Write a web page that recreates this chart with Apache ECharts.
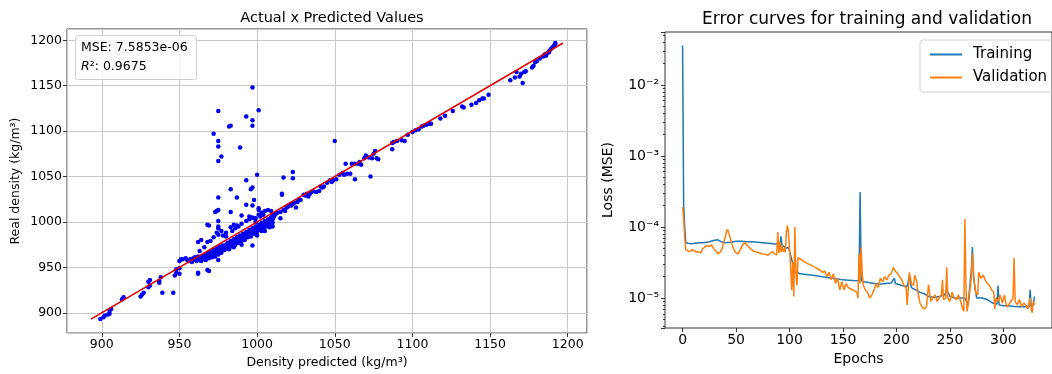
<!DOCTYPE html>
<html>
<head>
<meta charset="utf-8">
<script src="https://cdn.jsdelivr.net/npm/echarts@6/dist/echarts.min.js"></script>
<style>
  html, body { margin: 0; padding: 0; background: #fff; }
  #chart { width: 1052px; height: 374px; }
</style>
</head>
<body>
<div id="chart"></div>
<script>
// predicted vs real density (kg/m3)
const predicted = [
  899, 901, 902, 904, 905, 905, 906, 913, 914, 925, 926, 927, 930, 931, 930, 931, 937, 938, 937, 939, 946, 947, 948, 948, 950,
  950, 951, 952, 954, 950, 962, 968, 969, 962, 975,
  955, 956, 957, 958, 959, 960, 960, 961, 962, 962, 963, 963, 964, 964, 965, 965, 966, 966, 967, 967, 968, 968, 969, 969, 970,
  970, 971, 971, 972, 972, 973, 973, 974, 974, 975, 975, 976, 976, 977, 977, 978, 978, 979, 979, 980, 980, 981, 981, 982, 982,
  983, 983, 984, 984, 985, 985, 986, 986, 987, 987, 988, 988, 989, 989, 990, 990, 991, 991, 992, 992, 993, 993, 994, 994, 995,
  995, 996, 996, 997, 997, 998, 998, 999, 999, 1000, 1000, 1001, 1001, 1002, 1002, 1003, 1003, 1004, 1004, 1005, 1005, 1006, 1006, 1007, 1007,
  1008, 1008, 1009, 1009, 1010, 1010,
  963, 966, 968, 970, 962, 964, 972, 975, 977, 980, 983, 985, 987, 990, 993, 995, 997, 999, 1001, 1003, 1005, 1007, 1009, 1002, 1004,
  968, 969, 975, 975, 975, 974, 978, 980, 984, 986, 988, 990, 983, 975, 974, 973, 987, 975, 998, 993, 997, 998, 995, 999, 1001, 1001,
  997, 985, 990, 1000, 1005, 1010, 1015, 1008, 992, 996, 1003,
  997, 975, 1001, 993, 997, 997, 983, 982, 972, 975, 975, 989, 977, 975, 1050, 1000, 993, 997, 996, 983, 1023, 1023, 1017,
  1016, 1016, 1063, 1073, 1057, 1060, 1058, 1087,
  1010, 1011, 1012, 1013, 1015, 1017, 1018, 1019, 1020, 1021, 1022, 1023, 1024, 1025, 1026, 1027, 1028,
  1030, 1031, 1032, 1033, 1034, 1035, 1036, 1038, 1040, 1041, 1042, 1043, 1045, 1047, 1048, 1049, 1051, 1053, 1055, 1056,
  1061, 1063, 1065, 1066, 1067, 1069, 1070, 1072, 1074, 1075, 1076, 1077, 1078,
  1087, 1088, 1090, 1093, 1095, 1097, 1100, 1102, 1104, 1106, 1107, 1109, 1111,
  1112, 1118, 1121, 1126, 1132, 1133, 1138, 1141, 1143, 1145, 1146, 1149,
  1163, 1166, 1167, 1169, 1170, 1171, 1172, 1173, 1177, 1178, 1179, 1180, 1182, 1184, 1185, 1186, 1187, 1188, 1189, 1190, 1191, 1192, 1192, 1188, 1186
];
const real = [
  893, 895, 897, 898, 899, 902, 904, 915, 917, 918, 920, 922, 928, 930, 934, 936, 935, 939, 933, 922, 922, 941, 944, 948, 949,
  957, 959, 959, 960, 943, 943, 947, 946, 944, 958,
  958, 957, 959, 956, 960, 958, 961, 957, 959, 962, 958, 960, 961, 957, 959, 962, 960, 963, 961, 958, 962, 965, 960, 966, 963,
  967, 964, 961, 966, 969, 965, 962, 968, 971, 967, 964, 970, 973, 968, 966, 971, 974, 972, 969, 975, 971, 973, 977, 974, 970,
  976, 979, 977, 973, 978, 981, 979, 975, 980, 983, 981, 977, 982, 985, 983, 979, 984, 987, 985, 981, 986, 989, 987, 983, 988,
  991, 989, 985, 990, 993, 991, 987, 992, 995, 993, 989, 994, 997, 995, 991, 996, 999, 997, 993, 998, 1001, 999, 995, 1000, 1003,
  1001, 997, 1002, 1005, 1003, 999,
  968, 972, 978, 979, 978, 980, 983, 986, 990, 988, 994, 997, 996, 998, 1001, 1003, 1005, 1004, 1008, 1010, 1012, 1013, 1012, 1006, 1008,
  997, 996, 1001, 995, 993, 988, 985, 984, 990, 993, 995, 1007, 1011, 1013, 1012, 1011, 1027, 1027, 1024, 1019, 1018, 1004, 1006, 1000, 1013, 1015,
  974, 972, 975, 985, 990, 995, 1004, 994, 980, 984, 990,
  1148, 1122, 1123, 1116, 1112, 1106, 1106, 1105, 1097, 1089, 1083, 1082, 1072, 1067, 1089, 1052, 1046, 1038, 1036, 1036, 1055, 1048, 1049,
  1031, 1030, 1047, 1050, 1064, 1053, 1053, 1080,
  1008, 1006, 1009, 1010, 1011, 1013, 1012, 1016, 1017, 1019, 1018, 1020, 1021, 1016, 1022, 1025, 1024,
  1030, 1029, 1031, 1028, 1031, 1033, 1034, 1033, 1034, 1039, 1038, 1039, 1043, 1046, 1044, 1046, 1047, 1052, 1054, 1052,
  1064, 1064, 1064, 1066, 1063, 1070, 1073, 1071, 1070, 1075, 1078, 1070, 1069,
  1087, 1088, 1089, 1090, 1089, 1096, 1099, 1101, 1102, 1105, 1106, 1107, 1108,
  1108, 1114, 1117, 1122, 1127, 1126, 1129, 1131, 1134, 1136, 1136, 1140,
  1156, 1159, 1165, 1160, 1163, 1153, 1165, 1166, 1170, 1172, 1176, 1177, 1180, 1182, 1184, 1185, 1186, 1188, 1190, 1192, 1194, 1196, 1197, 1187, 1183
];
const idealLine = [[893, 893], [1197, 1197]];

// loss per epoch, [epoch, mse]
const training = [
  [0, 0.036], [1, 0.0002], [2, 0.0001], [3, 6.0e-5], [5, 5.9e-5], [8, 5.8e-5], [12, 5.9e-5], [16, 6.0e-5], [20, 6.0e-5],
  [25, 6.2e-5], [30, 6.5e-5], [33, 6.6e-5], [36, 6.2e-5], [40, 6.0e-5], [45, 6.1e-5], [50, 6.3e-5], [55, 6.3e-5], [60, 6.2e-5],
  [65, 6.2e-5], [70, 6.1e-5], [75, 6.0e-5], [80, 5.9e-5], [85, 5.8e-5], [89, 5.7e-5], [91, 5.6e-5], [92, 7.4e-5], [93, 5.5e-5],
  [95, 5.3e-5], [97, 5.0e-5], [99, 5.2e-5], [100, 4.6e-5], [102, 3.5e-5], [104, 2.6e-5], [106, 2.3e-5], [110, 2.2e-5],
  [115, 2.15e-5], [120, 2.1e-5], [125, 2.05e-5], [130, 2.0e-5], [135, 1.95e-5], [140, 1.9e-5], [145, 1.85e-5], [150, 1.8e-5],
  [155, 1.78e-5], [160, 1.76e-5], [165, 1.75e-5], [166, 3.1e-4], [167, 1.9e-5], [168, 1.7e-5], [172, 1.68e-5], [176, 1.62e-5],
  [180, 1.6e-5], [185, 1.58e-5], [190, 1.6e-5], [195, 1.62e-5], [198, 1.9e-5], [199, 1.6e-5], [205, 1.5e-5], [210, 1.45e-5],
  [212, 2.0e-5], [214, 1.4e-5], [218, 1.3e-5], [222, 1.2e-5], [226, 1.15e-5], [230, 1.05e-5], [235, 1.02e-5], [240, 1.05e-5],
  [245, 1.1e-5], [247, 1.3e-5], [250, 1.05e-5], [255, 1.0e-5], [260, 1.0e-5], [264, 1.0e-5], [267, 8e-6], [270, 2.5e-5],
  [271, 5.2e-5], [272, 2.0e-5], [275, 1.0e-5], [280, 1.0e-5], [285, 9.5e-6], [290, 8.5e-6], [294, 8.2e-6], [295, 1.5e-5],
  [296, 8e-6], [300, 7.8e-6], [305, 7.8e-6], [310, 7.6e-6], [315, 7.5e-6], [320, 7.6e-6], [324, 7.5e-6], [325, 1.3e-5],
  [326, 7.6e-6], [328, 8e-6], [329, 1.05e-5]
];
const validation = [
  [0, 1.9e-4], [1, 1.3e-4], [2, 7e-5], [3, 4.8e-5], [5, 4.6e-5], [7, 4.5e-5], [9, 4.8e-5], [11, 4.6e-5], [13, 4.4e-5],
  [15, 4.5e-5], [17, 4.3e-5], [19, 5.0e-5], [21, 5.2e-5], [23, 5.5e-5], [25, 5.3e-5], [27, 5.6e-5], [29, 5.0e-5], [31, 4.6e-5],
  [33, 4.2e-5], [35, 4.4e-5], [37, 5.0e-5], [39, 6.5e-5], [41, 8.5e-5], [42, 9.3e-5], [44, 7.5e-5], [46, 5.8e-5], [48, 4.8e-5],
  [50, 4.3e-5], [52, 4.2e-5], [54, 4.8e-5], [56, 5.6e-5], [58, 6.0e-5], [60, 5.6e-5], [63, 5.0e-5], [66, 4.6e-5], [70, 4.4e-5],
  [74, 4.2e-5], [78, 4.1e-5], [80, 4.0e-5], [82, 4.3e-5], [84, 4.5e-5], [86, 4.2e-5], [88, 4.0e-5], [89, 8.5e-5], [90, 4.3e-5],
  [91, 6.2e-5], [92, 4.4e-5], [93, 5.5e-5], [94, 4.5e-5], [95, 5.0e-5], [96, 4.4e-5], [97, 8.0e-5], [98, 1.05e-4], [99, 8.5e-5],
  [100, 5.0e-5], [101, 2.8e-5], [102, 1.3e-5], [103, 3.2e-5], [104, 1.05e-5], [105, 1.0e-4], [106, 2.2e-5], [107, 1.5e-5],
  [108, 3.7e-5], [112, 3.4e-5], [116, 3.1e-5], [120, 2.9e-5], [124, 2.7e-5], [128, 2.5e-5], [131, 2.3e-5], [133, 2.4e-5],
  [135, 2.0e-5], [137, 2.3e-5], [139, 1.8e-5], [141, 2.2e-5], [143, 1.6e-5], [145, 1.9e-5], [147, 1.3e-5], [149, 1.7e-5],
  [151, 1.3e-5], [153, 1.6e-5], [155, 1.4e-5], [157, 1.35e-5], [159, 1.3e-5], [161, 1.25e-5], [163, 1.2e-5], [164, 1.0e-5],
  [165, 4.2e-5], [166, 1.6e-5], [167, 5.2e-5], [168, 2.2e-5], [169, 1.5e-5], [171, 1.3e-5], [173, 1.2e-5], [175, 1.0e-5],
  [177, 1.1e-5], [179, 1.3e-5], [181, 1.6e-5], [183, 1.4e-5], [185, 1.9e-5], [187, 1.7e-5], [189, 2.0e-5], [191, 1.8e-5],
  [193, 2.1e-5], [195, 2.2e-5], [197, 2.7e-5], [199, 2.4e-5], [201, 2.2e-5], [203, 2.0e-5], [205, 1.8e-5], [207, 1.5e-5],
  [209, 1.4e-5], [210, 8.0e-6], [211, 1.3e-5], [212, 2.3e-5], [214, 1.6e-5], [216, 1.5e-5], [217, 2.1e-5], [219, 1.7e-5],
  [220, 1.2e-5], [222, 8.5e-6], [224, 7.5e-6], [226, 7.0e-6], [228, 7.5e-6], [230, 1.55e-5], [232, 9e-6], [234, 1.0e-5],
  [236, 1.1e-5], [238, 9e-6], [240, 1.0e-5], [242, 1.1e-5], [243, 1.8e-5], [244, 9.5e-6], [246, 1.0e-5], [247, 2.7e-5],
  [248, 1.0e-5], [250, 9e-6], [252, 1.2e-5], [254, 1.0e-5], [256, 9.5e-6], [258, 1.1e-5], [260, 9e-6], [262, 7e-6],
  [263, 6.5e-6], [264, 1.3e-4], [265, 1.5e-5], [266, 6.5e-6], [268, 1.0e-5], [270, 2.0e-5], [271, 4.2e-5], [272, 2.4e-5],
  [273, 1.5e-5], [274, 1.2e-5], [276, 1.1e-5], [277, 2.3e-5], [279, 1.9e-5], [281, 2.1e-5], [283, 1.8e-5], [285, 1.6e-5],
  [287, 1.5e-5], [289, 1.3e-5], [291, 1.2e-5], [292, 7e-6], [293, 1.0e-5], [295, 9e-6], [297, 1.1e-5], [299, 8.5e-6],
  [301, 1.1e-5], [303, 7.5e-6], [305, 8.0e-6], [307, 9e-6], [309, 1.0e-5], [310, 3.7e-5], [311, 9e-6], [313, 8e-6],
  [315, 9.5e-6], [317, 7.5e-6], [319, 8.5e-6], [321, 8e-6], [323, 7.0e-6], [325, 1.0e-5], [326, 7e-6], [327, 6.2e-6],
  [328, 9e-6], [329, 8e-6]
];

const font = 'DejaVu Sans'
const supers = { '-': '⁻', '0': '⁰', '1': '¹', '2': '²', '3': '³', '4': '⁴', '5': '⁵', '6': '⁶', '7': '⁷', '8': '⁸', '9': '⁹' }

// 10^n labels for the log axis, blank for anything else
function logLabel(v) {
  const e = Math.log10(v)
  if (Math.abs(e - Math.round(e)) > 1e-6) return ''
  return '10' + String(Math.round(e)).split('').map(c => supers[c]).join('')
}

function every50(v) {
  return Math.abs(v % 50) < 1e-6 ? String(Math.round(v)) : ''
}

const scatterData = predicted.map((p, i) => [p, real[i]])

const chart = echarts.init(document.getElementById('chart'))
const option = {
  animation: false,
  textStyle: { fontFamily: font },
  title: [
    {
      text: 'Actual x Predicted Values',
      left: 327, top: 6, textAlign: 'center',
      textStyle: { fontFamily: font, fontSize: 14.5, fontWeight: 'normal', color: '#000' }
    },
    {
      text: 'Error curves for training and validation',
      left: 862, top: 6, textAlign: 'center',
      textStyle: { fontFamily: font, fontSize: 17, fontWeight: 'normal', color: '#000' }
    },
    {
      text: 'MSE: 7.5853e-06\n{i|R}²: 0.9675',
      left: 75, top: 35,
      padding: [3, 9, 4, 6],
      borderColor: '#d0d0d0', borderWidth: 1, borderRadius: 3,
      backgroundColor: 'rgba(255,255,255,0.8)',
      textStyle: {
        fontFamily: font, fontSize: 12.5, fontWeight: 'normal', color: '#000', lineHeight: 19,
        rich: { i: { fontFamily: font, fontSize: 12.5, fontStyle: 'italic', color: '#000', lineHeight: 19 } }
      }
    }
  ],
  legend: {
    data: ['Training', 'Validation'],
    orient: 'vertical',
    left: 920, top: 40,
    padding: [7, 8, 7, 10],
    itemGap: 8,
    itemWidth: 32, itemHeight: 2,
    icon: 'rect',
    borderColor: '#d0d0d0', borderWidth: 1, borderRadius: 3,
    textStyle: { fontFamily: font, fontSize: 15, color: '#000', padding: [0, 0, 0, 6] }
  },
  grid: [
    { left: 67, right: 465, top: 29, bottom: 37, show: true, borderColor: '#333', borderWidth: 1 },
    { left: 665, right: -11, top: 32, bottom: 46, show: true, borderColor: '#333', borderWidth: 1 }
  ],
  xAxis: [
    {
      type: 'value', gridIndex: 0, min: 877.6, max: 1212.4, splitNumber: 6,
      name: 'Density predicted (kg/m³)', nameLocation: 'middle', nameGap: 21,
      nameTextStyle: { fontFamily: font, fontSize: 12.5, color: '#000' },
      axisLine: { show: false, onZero: false },
      axisTick: { show: true, length: 4, lineStyle: { color: '#333' } },
      axisLabel: { fontFamily: font, fontSize: 12.5, color: '#000', margin: 5, formatter: every50, showMinLabel: false, showMaxLabel: false },
      splitLine: { show: true, lineStyle: { color: '#c8c8c8', width: 1 } }
    },
    {
      type: 'value', gridIndex: 1, min: -16.45, max: 345.45, splitNumber: 7,
      name: 'Epochs', nameLocation: 'middle', nameGap: 24,
      nameTextStyle: { fontFamily: font, fontSize: 14, color: '#000' },
      axisLine: { show: false, onZero: false },
      axisTick: { show: true, length: 4, lineStyle: { color: '#333' } },
      axisLabel: { fontFamily: font, fontSize: 14, color: '#000', margin: 5, formatter: every50, showMinLabel: false, showMaxLabel: false },
      splitLine: { show: false }
    }
  ],
  yAxis: [
    {
      type: 'value', gridIndex: 0, min: 877.6, max: 1212.4, splitNumber: 6,
      name: 'Real density (kg/m³)', nameLocation: 'middle', nameGap: 45,
      nameTextStyle: { fontFamily: font, fontSize: 12.5, color: '#000' },
      axisLine: { show: false, onZero: false },
      axisTick: { show: true, length: 4, lineStyle: { color: '#333' } },
      axisLabel: { fontFamily: font, fontSize: 12.5, color: '#000', margin: 5, formatter: every50, showMinLabel: false, showMaxLabel: false },
      splitLine: { show: true, lineStyle: { color: '#c8c8c8', width: 1 } }
    },
    {
      type: 'log', gridIndex: 1, min: 3.78e-6, max: 0.0557,
      name: 'Loss (MSE)', nameLocation: 'middle', nameGap: 50,
      nameTextStyle: { fontFamily: font, fontSize: 14, color: '#000' },
      axisLine: { show: false, onZero: false },
      axisTick: { show: true, length: 4, lineStyle: { color: '#333' } },
      minorTick: { show: true, splitNumber: 9, length: 2, lineStyle: { color: '#333' } },
      axisLabel: { fontFamily: font, fontSize: 14, color: '#000', margin: 6, formatter: logLabel, showMinLabel: false, showMaxLabel: false },
      splitLine: { show: false }
    }
  ],
  series: [
    {
      type: 'scatter', xAxisIndex: 0, yAxisIndex: 0,
      data: scatterData,
      symbolSize: 4.5,
      itemStyle: { color: '#0000ee', opacity: 1 },
      z: 3
    },
    {
      type: 'line', xAxisIndex: 0, yAxisIndex: 0,
      data: idealLine,
      showSymbol: false,
      lineStyle: { color: '#e00000', width: 1.5 },
      z: 4
    },
    {
      name: 'Training', type: 'line', xAxisIndex: 1, yAxisIndex: 1,
      data: training,
      showSymbol: false,
      itemStyle: { color: '#1f77b4' },
      lineStyle: { color: '#1f77b4', width: 1.5 },
      z: 3
    },
    {
      name: 'Validation', type: 'line', xAxisIndex: 1, yAxisIndex: 1,
      data: validation,
      showSymbol: false,
      itemStyle: { color: '#ff7f0e' },
      lineStyle: { color: '#ff7f0e', width: 1.5 },
      z: 4
    }
  ]
}
chart.setOption(option)
</script>
</body>
</html>
